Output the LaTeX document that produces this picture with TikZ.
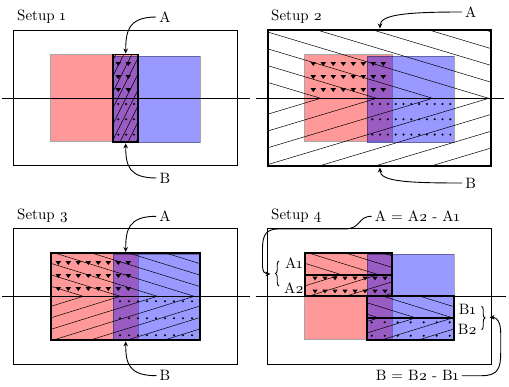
\documentclass[tikz,border=0pt]{standalone}
\usepackage{fontspec}
\setmainfont{lmroman10-regular}[Extension=.otf, Numbers=OldStyle]
\usetikzlibrary{arrows.meta,decorations.pathreplacing}
\newcommand\trigrid[4]{%
  \foreach \ii in {0,...,#3}{\foreach \jj in {0,...,#4}{%
    \fill ({#1+10*\ii},{#2+13*\jj}) +(-2.7,-1.8) -- +(2.7,-1.8) -- +(0,2) -- cycle;}}}
\newcommand\dotgrid[6]{%
  \foreach \ii in {0,...,#3}{\foreach \jj in {0,...,#4}{%
    \fill ({#1+#5*\ii},{#2+#6*\jj}) circle (1.15);}}}
\newcommand\upleft[5]{%
  \foreach \ii in {0,...,#4}{\draw[hatchline] ({#1+#3*\ii},#2) -- +(-300,{-300*#5});}}
\newcommand\downleft[5]{%
  \foreach \ii in {0,...,#4}{\draw[hatchline] ({#1+#3*\ii},#2) -- +(-300,{300*#5});}}
\newcommand\upright[5]{%
  \foreach \ii in {0,...,#4}{\draw[hatchline] ({#1+#3*\ii},#2) -- +(300,{-300*#5});}}
\begin{document}
\begin{tikzpicture}[x=1pt,y=-1pt,
  font=\fontsize{15}{17}\selectfont,
  thinbox/.style={draw=black,line width=0.9pt},
  thickbox/.style={draw=black,line width=1.8pt},
  redrect/.style={fill=red,fill opacity=0.4,draw=black,draw opacity=0.35,line width=0.9pt},
  bluerect/.style={fill=blue,fill opacity=0.4,draw=black,draw opacity=0.35,line width=0.9pt},
  midline/.style={draw=black,line width=1.5pt},
  hatchline/.style={draw=black,line width=0.5pt},
  callout/.style={draw=black,line width=0.9pt,-{Stealth[length=5pt,width=4.5pt]}},
  lbl/.style={inner sep=3pt},
  title/.style={inner sep=0pt,anchor=base west},
  bracestyle/.style={draw=black,line width=0.9pt,decorate,decoration={brace,amplitude=3.5pt}},
]
\useasboundingbox (0,0) rectangle (509,386);

% ---------------- Setup 1 ----------------
\begin{scope}
\draw[thinbox] (13.3,30) rectangle (237.3,165.7);
\path[redrect] (50.7,54.5) rectangle (138.3,141.3);
\path[bluerect] (113,56) rectangle (200,142.7);
\begin{scope}
\clip (113,54.5) rectangle (138.3,142.3);
\foreach \k in {0,...,14} \draw[hatchline] ({60+8*\k},150) -- +(60,-120);
\trigrid{118.3}{64}{1}{2}
\dotgrid{118.3}{104}{2}{2}{7.8}{15.3}
\end{scope}
\draw[thickbox] (113,54.5) rectangle (138.3,142.3);
\draw[midline] (2,98.3) -- (250,98.3);
\node[title] (t1) at (17,20.7) {Setup 1};
\node[lbl] (la1) at (165,17) {A};
\node[lbl] (lb1) at (165,178) {B};
\coordinate (pa1) at (125.7,53.5);
\coordinate (pb1) at (125.7,143.3);
\draw[callout] (la1.west) .. controls +(-28,0) and +(0,-22) .. (pa1);
\draw[callout] (lb1.west) .. controls +(-28,0) and +(0,22) .. (pb1);
\end{scope}

% ---------------- Setup 2 ----------------
\begin{scope}
\path[redrect] (304.7,54.5) rectangle (392.3,141.3);
\path[bluerect] (367,56) rectangle (454,142.7);
\begin{scope}
\clip (267.7,30) rectangle (491.3,166);
\upleft{264.7}{98.3}{56}{8}{0.3}
\downleft{264.7}{98.3}{56}{8}{0.3}
\end{scope}
\begin{scope}
\clip (304.7,54.5) rectangle (392.3,98.3);
\trigrid{313.3}{64}{7}{2}
\end{scope}
\begin{scope}
\clip (367,98.3) rectangle (454,142.7);
\dotgrid{372.3}{104}{10}{2}{7.8}{15.3}
\end{scope}
\draw[thickbox] (267.7,30) rectangle (491.3,166);
\draw[midline] (256,98.3) -- (504,98.3);
\node[title] (t2) at (271,20.7) {Setup 2};
\node[lbl] (la2) at (470.7,12) {A};
\node[lbl] (lb2) at (470.7,183) {B};
\coordinate (pa2) at (380,28.5);
\coordinate (pb2) at (380,167.5);
\draw[callout] (la2.west) .. controls +(-55,0) and +(0,-14) .. (pa2);
\draw[callout] (lb2.west) .. controls +(-55,0) and +(0,14) .. (pb2);
\end{scope}

% ---------------- Setup 3 ----------------
\begin{scope}[shift={(0,198)}]
\draw[thinbox] (13.3,30) rectangle (237.3,166.7);
\path[redrect] (50.7,54.5) rectangle (138.3,141.3);
\path[bluerect] (113,56) rectangle (200,142.7);
\begin{scope}
\clip (50.7,55) rectangle (200,141.7);
\upleft{46.3}{98.3}{37}{8}{0.31}
\downleft{46.3}{98.3}{37}{8}{0.31}
\end{scope}
\begin{scope}
\clip (50.7,55) rectangle (138.3,98.3);
\trigrid{58.3}{65}{7}{2}
\end{scope}
\begin{scope}
\clip (113,98.3) rectangle (200,141.7);
\dotgrid{120}{103.3}{8}{2}{9}{17}
\end{scope}
\draw[thickbox] (50.7,55) rectangle (200,141.7);
\draw[midline] (2,98.3) -- (250,98.3);
\node[title] (t3) at (17,21) {Setup 3};
\node[lbl] (la3) at (165,18.3) {A};
\node[lbl] (lb3) at (165,177.7) {B};
\coordinate (pa3) at (125.7,54);
\coordinate (pb3) at (125.7,143.3);
\draw[callout] (la3.west) .. controls +(-28,0) and +(0,-22) .. (pa3);
\draw[callout] (lb3.west) .. controls +(-28,0) and +(0,22) .. (pb3);
\end{scope}

% ---------------- Setup 4 ----------------
\begin{scope}[shift={(254,198)}]
\draw[thinbox] (13.3,30) rectangle (237.3,166.7);
\path[redrect] (50.7,54.5) rectangle (138.3,141.3);
\path[bluerect] (113,56) rectangle (200,142.7);
\begin{scope}
\clip (50.7,55) rectangle (138.3,76.7);
\upleft{46.3}{98.3}{37}{8}{0.31}
\end{scope}
\begin{scope}
\clip (50.7,76.7) rectangle (138.3,98.3);
\upright{-19.7}{98.3}{37}{4}{0.31}
\trigrid{61}{80.3}{7}{1}
\end{scope}
\begin{scope}
\clip (113,98.3) rectangle (200,120);
\upleft{125.3}{120}{37}{4}{0.31}
\end{scope}
\begin{scope}
\clip (113,120) rectangle (200,141.7);
\downleft{46.3}{98.3}{37}{8}{0.31}
\dotgrid{117.7}{124.3}{6}{1}{13}{13.4}
\end{scope}
\draw[thickbox] (50.7,55) rectangle (138.3,76.7);
\draw[thickbox] (50.7,76.7) rectangle (138.3,98.3);
\draw[thickbox] (113,98.3) rectangle (200,120);
\draw[thickbox] (113,120) rectangle (200,141.7);
\draw[midline] (1.7,98.3) -- (251.7,98.3);
\node[title] (t4) at (17,21) {Setup 4};
\node[lbl] (aeq) at (163.3,18.3) {A = A2 - A1};
\node[lbl] (lA1) at (39.8,65) {A1};
\node[lbl] (lA2) at (39.8,90) {A2};
\node[lbl] (lB1) at (213.3,111.7) {B1};
\node[lbl] (lB2) at (213.3,131.7) {B2};
\node[lbl] (beq) at (163.3,177.7) {B = B2 - B1};
\draw[bracestyle] (25,88) -- (25,63);
\draw[bracestyle] (227.5,108.3) -- (227.5,131.7);
\coordinate (pA) at (16.5,76);
\coordinate (pB) at (235.5,119.3);
\draw[callout] (aeq.west) .. controls (103,18.3) and (108,31) .. (90,31) -- (24,31) .. controls (8.5,31) and (8.5,42) .. (8.5,54) -- (8.5,68) .. controls (8.5,74) and (11,76) .. (pA);
\draw[callout] (beq.east) -- (228,177.7) .. controls (244,177.7) and (246.7,170) .. (246.7,155) -- (246.7,135) .. controls (246.7,124) and (243,119.3) .. (pB);
\end{scope}
\end{tikzpicture}
\end{document}
